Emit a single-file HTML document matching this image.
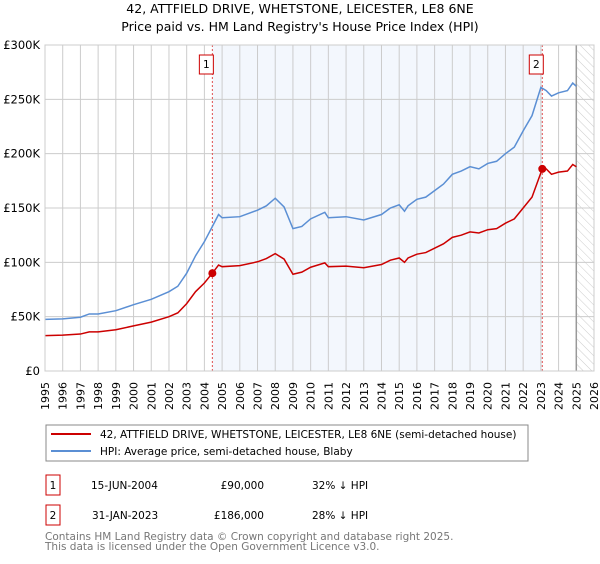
<!DOCTYPE html>
<html><head><meta charset="utf-8"><style>
body{margin:0;background:#fff;font-family:"DejaVu Sans","Liberation Sans",sans-serif;}
svg text{font-family:"DejaVu Sans","Liberation Sans",sans-serif;}
</style></head><body>
<svg width="600" height="560" xmlns="http://www.w3.org/2000/svg" id="svg">
<defs><pattern id="hatch" width="6" height="6" patternUnits="userSpaceOnUse" patternTransform="rotate(-45)"><line x1="0" y1="0" x2="0" y2="6" stroke="#ccc" stroke-width="1"/></pattern></defs>
<text x="300" y="13" text-anchor="middle" font-size="12.5">42, ATTFIELD DRIVE, WHETSTONE, LEICESTER, LE8 6NE</text>
<text x="300" y="31" text-anchor="middle" font-size="12.5">Price paid vs. HM Land Registry's House Price Index (HPI)</text>
<g id="plot"></g>
<g>
<rect x="46" y="425" width="482" height="36" fill="#fff" stroke="#888"/>
<line x1="51" y1="434" x2="91" y2="434" stroke="#cc0000" stroke-width="2"/>
<text x="100" y="438" font-size="10.5">42, ATTFIELD DRIVE, WHETSTONE, LEICESTER, LE8 6NE (semi-detached house)</text>
<line x1="51" y1="451" x2="91" y2="451" stroke="#5b8fd4" stroke-width="2"/>
<text x="100" y="455" font-size="10.5">HPI: Average price, semi-detached house, Blaby</text>
</g>
<g font-size="10.5">
<rect x="46" y="475" width="14" height="20" fill="#fff" stroke="#cc0000"/>
<text x="53" y="489" text-anchor="middle">1</text>
<text x="91" y="489">15-JUN-2004</text>
<text x="264" y="489" text-anchor="end">£90,000</text>
<text x="312" y="489">32% ↓ HPI</text>
</g>
<g font-size="10.5">
<rect x="46" y="505" width="14" height="20" fill="#fff" stroke="#cc0000"/>
<text x="53" y="519" text-anchor="middle">2</text>
<text x="92" y="519">31-JAN-2023</text>
<text x="264" y="519" text-anchor="end">£186,000</text>
<text x="312" y="519">28% ↓ HPI</text>
</g>
<text x="45" y="540" font-size="10.5" fill="#777">Contains HM Land Registry data © Crown copyright and database right 2025.</text>
<text x="45" y="550" font-size="10.5" fill="#777">This data is licensed under the Open Government Licence v3.0.</text>
</svg>
<script>
const yTicks=[0,50000,100000,150000,200000,250000,300000];
const yTickLabels=["£0","£50K","£100K","£150K","£200K","£250K","£300K"];
const xYears=[1995,1996,1997,1998,1999,2000,2001,2002,2003,2004,2005,2006,2007,2008,2009,2010,2011,2012,2013,2014,2015,2016,2017,2018,2019,2020,2021,2022,2023,2024,2025,2026];
const hpiT=[1995,1996,1997,1997.5,1998,1999,2000,2001,2002,2002.5,2003,2003.5,2004,2004.45,2004.8,2005,2006,2007,2007.5,2008,2008.5,2009,2009.5,2010,2010.8,2011,2012,2013,2014,2014.5,2015,2015.3,2015.5,2016,2016.5,2017,2017.5,2018,2018.5,2019,2019.5,2020,2020.5,2021,2021.5,2022,2022.5,2023,2023.3,2023.6,2024,2024.5,2024.8,2025];
const hpiV=[47500,48000,49500,52500,52500,55500,61000,66000,73000,78000,90000,106000,119000,133000,144000,141000,142000,148000,152000,159000,151000,131000,133000,140000,146000,141000,142000,139000,144000,150000,153000,147000,152000,158000,160000,166000,172000,181000,184000,188000,186000,191000,193000,200000,206000,221000,235000,261000,258000,253000,256000,258000,265000,262000];
const priceT=[1995,1996,1997,1997.5,1998,1999,2000,2001,2002,2002.5,2003,2003.5,2004,2004.45,2004.8,2005,2006,2007,2007.5,2008,2008.5,2009,2009.5,2010,2010.8,2011,2012,2013,2014,2014.5,2015,2015.3,2015.5,2016,2016.5,2017,2017.5,2018,2018.5,2019,2019.5,2020,2020.5,2021,2021.5,2022,2022.5,2023.08,2023.3,2023.6,2024,2024.5,2024.8,2025];
const priceV=[32500,33000,34000,36000,36000,38000,41500,45000,50000,53500,62000,73000,81000,90000,97500,96000,97000,100500,103500,108000,103000,89000,91000,95500,99500,96000,96500,95000,98000,102000,104000,100000,104000,107500,109000,113000,117000,123000,125000,128000,127000,130000,131000,136000,140000,150000,160000,186000,186000,181000,183000,184000,190000,188000];
const sales=[{t:2004.45,v:90000,n:"1"},{t:2023.08,v:186000,n:"2"}];
const L=45,R=594,T=45,B=371,x0=1995,x1=2026,ymax=300000;
const X=t=>L+(t-x0)/(x1-x0)*(R-L);
const Y=v=>B-v/ymax*(B-T);
const NS="http://www.w3.org/2000/svg";
const g=document.getElementById('plot');
function mk(tag,attrs){const e=document.createElementNS(NS,tag);for(const k in attrs)e.setAttribute(k,attrs[k]);g.appendChild(e);return e;}
let e;
e=mk('rect',{x:X(sales[0].t),y:T,width:X(sales[1].t)-X(sales[0].t),height:B-T,fill:'#eef3fc',opacity:0.7});


e=mk('rect',{x:X(2025),y:T,width:R-X(2025),height:B-T,fill:'url(#hatch)'});


xYears.forEach(yr=>{
 e=mk('line',{x1:X(yr),x2:X(yr),y1:T,y2:B,stroke:'#ccc','stroke-width':1});
 
 
 e=mk('text',{x:0,y:0,'font-size':11,'text-anchor':'end',transform:`translate(${X(yr)+4},${382}) rotate(-90)`});
 e.textContent=yr;
 
 
});
yTicks.forEach((v,i)=>{
 e=mk('line',{x1:L,x2:R,y1:Y(v),y2:Y(v),stroke:'#ccc','stroke-width':1});
 
 
 e=mk('text',{x:40,y:Y(v)+4,'font-size':11.5,'text-anchor':'end'});
 e.textContent=yTickLabels[i];
 
 
});
e=mk('line',{x1:X(2025),x2:X(2025),y1:T,y2:B,stroke:'#999','stroke-width':1.5});


sales.forEach(s=>{
 e=mk('line',{x1:X(s.t),x2:X(s.t),y1:T,y2:B,stroke:'#e05050','stroke-width':1,'stroke-dasharray':'2,2'});
 
 
});
e=mk('polyline',{points:hpiT.map((t,i)=>X(t)+','+Y(hpiV[i])).join(' '),fill:'none',stroke:'#5b8fd4','stroke-width':1.5});


e=mk('polyline',{points:priceT.map((t,i)=>X(t)+','+Y(priceV[i])).join(' '),fill:'none',stroke:'#cc0000','stroke-width':1.5});


sales.forEach(s=>{
 e=mk('circle',{cx:X(s.t),cy:Y(s.v),r:4,fill:'#cc0000'});
 
 
 e=mk('rect',{x:X(s.t)-13,y:55,width:14,height:19,fill:'#fff',stroke:'#cc0000'});
 
 
 e=mk('text',{x:X(s.t)-6,y:68,'font-size':10.5,'text-anchor':'middle'});
 e.textContent=s.n;
 
 
});
e=mk('rect',{x:L,y:T,width:R-L,height:B-T,fill:'none',stroke:'#ccc'});


</script>
</body></html>
